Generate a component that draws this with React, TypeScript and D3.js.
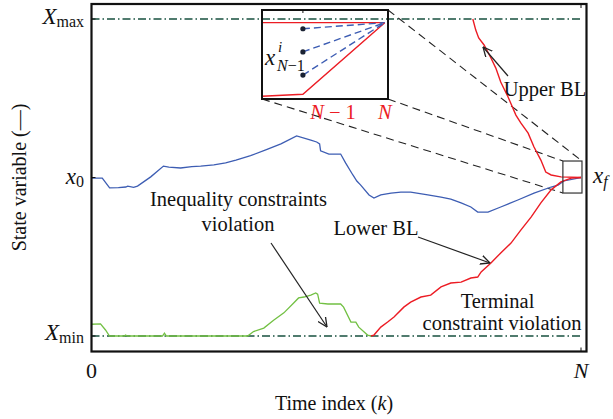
import React from "react";
import * as d3 from "d3";

// ---- data (k: time index, 0..N; v: state, Xmin = 0, x0 = 0.5, Xmax = 1) ----
const N = 100;
const kTicks = [0, N];
const kTickLabels = ["0", "N"];
const X_MIN = 0;
const X_0 = 0.5;
const X_MAX = 1;

const stateTrajectory: [number, number][] = [
  [0, 0.498], [2.2, 0.498], [3.7, 0.467], [5.5, 0.468], [7.0, 0.47], [7.4, 0.473],
  [8.6, 0.469], [9.4, 0.473], [12.1, 0.502], [14.7, 0.536], [15.8, 0.533], [18.2, 0.53],
  [20.5, 0.534], [22.3, 0.536], [25.0, 0.54], [27.4, 0.546], [29.5, 0.555], [32.5, 0.569],
  [35.6, 0.587], [38.7, 0.606], [41.9, 0.631], [44.8, 0.618], [46.0, 0.612], [46.6, 0.606],
  [46.8, 0.584], [48.5, 0.574], [50.9, 0.574], [51.9, 0.546], [53.4, 0.508], [54.2, 0.489],
  [55.0, 0.476], [56.7, 0.445], [57.7, 0.435], [59.1, 0.445], [61.2, 0.451], [63.2, 0.454],
  [65.2, 0.454], [68.7, 0.445], [71.4, 0.438], [73.4, 0.432], [75.5, 0.42], [77.5, 0.407],
  [78.9, 0.391], [81.0, 0.391], [83.6, 0.407], [87.1, 0.429], [90.4, 0.451], [93.9, 0.47],
  [95.3, 0.476], [96.5, 0.489], [99.4, 0.498], [100, 0.5],
];

const violationTrajectory: [number, number][] = [
  [0, 0.037], [1.84, 0.038], [2.86, 0.019], [3.68, 0], [6.75, 0], [6.95, 0.003], [7.36, 0],
  [14.5, 0], [14.9, 0.009], [15.3, 0], [31.9, 0], [33.1, 0.014], [35.2, 0.025], [37.2, 0.05],
  [39.3, 0.073], [41.3, 0.104], [42.3, 0.12], [43.4, 0.123], [44.8, 0.129], [45.8, 0.136],
  [46.2, 0.132], [46.6, 0.104], [48.3, 0.101], [50.9, 0.101], [51.5, 0.091], [53.0, 0.044],
  [54.0, 0.044], [54.6, 0.028], [56.4, 0.003], [57.1, 0],
];

const lowerBL: [number, number][] = [
  [57.1, 0], [57.7, 0.003], [59.1, 0.028], [60.5, 0.044], [61.8, 0.06], [63.8, 0.091],
  [65.2, 0.107], [67.3, 0.123], [69.3, 0.129], [71.4, 0.155], [73.4, 0.167], [75.5, 0.17],
  [77.5, 0.183], [78.9, 0.186], [79.6, 0.202], [81.6, 0.23], [83.6, 0.262], [85.7, 0.293],
  [87.7, 0.334], [89.8, 0.375], [91.8, 0.42], [93.9, 0.461], [95.9, 0.486], [98.0, 0.498],
  [100, 0.5],
];

const upperBL: [number, number][] = [
  [77.9, 1.0], [78.5, 0.965], [79.1, 0.94], [80.2, 0.918], [81.6, 0.877], [82.6, 0.845],
  [83.6, 0.801], [85.1, 0.754], [86.7, 0.697], [87.7, 0.672], [89.2, 0.64], [90.4, 0.596],
  [91.8, 0.555], [92.8, 0.517], [93.9, 0.508], [95.9, 0.502], [100, 0.5],
];

// zoom window around x_f (k range, v range)
const zoomK = [96.3, 100.2];
const zoomV = [0.451, 0.552];

// inset (local units: step offset from N; 0 = lower BL at N-1, 1 = upper BL)
const insetUpper: [number, number][] = [[-1.5, 1], [0, 1]];
const insetLower: [number, number][] = [[-1.5, -0.028], [-1, 0], [0, 1]];
const insetCandidates = [0.915, 0.592, 0.268];

// ---- colours ----
const BLUE = "#3d5db3";
const GREEN = "#72c043";
const RED = "#ec1c24";
const DASHDOT = "#17503f";
const FONT = "'Liberation Serif', 'Times New Roman', serif";

export default function App() {
  const W = 613;
  const H = 419;
  const left = 91.5, right = 586.5, top = 4, bottom = 351.5;

  const x = d3.scaleLinear().domain([0, N]).range([91.5, 581]);
  const y = d3.scaleLinear().domain([X_MIN, X_MAX]).range([336, 19]);
  const line = d3.line<[number, number]>().x((d) => x(d[0])).y((d) => y(d[1]));

  // inset scales
  const ix = d3.scaleLinear().domain([-1.5, 0.04]).range([262, 388]);
  const iy = d3.scaleLinear().domain([-0.066, 1.177]).range([99, 10]);
  const iline = d3.line<[number, number]>().x((d) => ix(d[0])).y((d) => iy(d[1]));
  const ib = { x0: ix(-1.5), x1: ix(0.04), y0: iy(1.177), y1: iy(-0.066) };

  const zb = { x0: x(zoomK[0]), x1: x(zoomK[1]), y0: y(zoomV[1]), y1: y(zoomV[0]) };

  const conv = [X_MAX, X_0, X_MIN];

  return (
    <svg
      width={W}
      height={H}
      style={{ position: "absolute", left: 0, top: 0, background: "#fff" }}
      fontFamily={FONT}
    >
      <defs>
        <marker
          id="arr"
          viewBox="0 0 10 10"
          refX="9.5"
          refY="5"
          markerWidth="10"
          markerHeight="10"
          markerUnits="userSpaceOnUse"
          orient="auto"
        >
          <path d="M0,0.5 L9.5,5 L0,9.5" fill="none" stroke="#222" strokeWidth="1.3" />
        </marker>
      </defs>
      <rect x={0} y={0} width={W} height={H} fill="#fff" />

      {/* bounds */}
      {[X_MAX, X_MIN].map((v) => (
        <line
          key={v}
          x1={x(0)}
          x2={x(N)}
          y1={y(v)}
          y2={y(v)}
          stroke={DASHDOT}
          strokeWidth={1.3}
          strokeDasharray="8,3,1.5,3"
        />
      ))}

      {/* connector lines to inset */}
      <g stroke="#222" strokeWidth={1.1} strokeDasharray="8,5" fill="none">
        <line x1={ib.x1} y1={ib.y0} x2={zb.x1} y2={zb.y0} />
        <line x1={ib.x1} y1={ib.y1} x2={zb.x0} y2={zb.y0} />
        <line x1={ib.x0} y1={ib.y1} x2={zb.x0} y2={zb.y1} />
      </g>

      {/* curves */}
      <path d={line(violationTrajectory) ?? ""} fill="none" stroke={GREEN} strokeWidth={1.3} />
      <path d={line(stateTrajectory) ?? ""} fill="none" stroke={BLUE} strokeWidth={1.3} />
      <path d={line(lowerBL) ?? ""} fill="none" stroke={RED} strokeWidth={1.4} />
      <path d={line(upperBL) ?? ""} fill="none" stroke={RED} strokeWidth={1.4} />

      {/* zoom box */}
      <rect
        x={zb.x0}
        y={zb.y0}
        width={zb.x1 - zb.x0}
        height={zb.y1 - zb.y0}
        fill="none"
        stroke="#333"
        strokeWidth={1.2}
      />

      {/* inset */}
      <g>
        <path d={iline(insetUpper) ?? ""} fill="none" stroke={RED} strokeWidth={1.4} />
        <path d={iline(insetLower) ?? ""} fill="none" stroke={RED} strokeWidth={1.4} />
        {insetCandidates.map((v) => (
          <g key={v}>
            <line
              x1={ix(-1)}
              y1={iy(v)}
              x2={ix(0)}
              y2={iy(1)}
              stroke={BLUE}
              strokeWidth={1.4}
              strokeDasharray="7,4"
            />
            <circle cx={ix(-1)} cy={iy(v)} r={2.6} fill="#1a2233" />
          </g>
        ))}
        <rect
          x={ib.x0}
          y={ib.y0}
          width={ib.x1 - ib.x0}
          height={ib.y1 - ib.y0}
          fill="none"
          stroke="#111"
          strokeWidth={2}
        />
        <line x1={ix(-1)} x2={ix(-1)} y1={ib.y0} y2={ib.y0 + 3} stroke="#111" strokeWidth={1} />
        <text x={265} y={65} fontSize={23} fontStyle="italic" fill="#111">x</text>
        <text x={278} y={52} fontSize={15} fontStyle="italic" fill="#111">i</text>
        <text x={277} y={71} fontSize={16} fill="#111">
          <tspan fontStyle="italic">N</tspan>
          <tspan>{"\u22121"}</tspan>
        </text>
        <text x={333} y={119} fontSize={20.5} fill={RED} textAnchor="middle">
          <tspan fontStyle="italic">N</tspan>
          <tspan>{" \u2212 1"}</tspan>
        </text>
        <text x={ix(0)} y={119} fontSize={20.5} fill={RED} textAnchor="middle" fontStyle="italic">
          N
        </text>
      </g>

      {/* frame */}
      <rect
        x={left}
        y={top}
        width={right - left}
        height={bottom - top}
        fill="none"
        stroke="#111"
        strokeWidth={2.2}
      />
      {/* ticks */}
      {conv.map((v) => (
        <line key={v} x1={left} x2={left + 4} y1={y(v)} y2={y(v)} stroke="#111" strokeWidth={1} />
      ))}
      <line x1={x(N)} x2={x(N)} y1={bottom} y2={bottom - 4} stroke="#111" strokeWidth={1} />
      <line x1={x(N)} x2={x(N)} y1={top} y2={top + 4} stroke="#111" strokeWidth={1} />

      {/* y tick labels */}
      <text x={84} y={y(X_MAX) + 5} fontSize={23} textAnchor="end" fill="#111">
        <tspan fontStyle="italic">X</tspan>
        <tspan fontSize={16} dy={3}>max</tspan>
      </text>
      <text x={84} y={y(X_0) + 6} fontSize={23} textAnchor="end" fill="#111">
        <tspan fontStyle="italic">x</tspan>
        <tspan fontSize={16} dy={3}>0</tspan>
      </text>
      <text x={84} y={y(X_MIN) + 4} fontSize={23} textAnchor="end" fill="#111">
        <tspan fontStyle="italic">X</tspan>
        <tspan fontSize={16} dy={3}>min</tspan>
      </text>
      <text x={593} y={183} fontSize={23} fill="#111">
        <tspan fontStyle="italic">x</tspan>
        <tspan fontSize={16} dy={4} fontStyle="italic">f</tspan>
      </text>

      {/* x tick labels */}
      {kTicks.map((k, i) => (
        <text
          key={k}
          x={x(k)}
          y={378}
          fontSize={22}
          textAnchor="middle"
          fontStyle={i === 1 ? "italic" : "normal"}
          fill="#111"
        >
          {kTickLabels[i]}
        </text>
      ))}

      {/* axis titles */}
      <text x={334} y={410} fontSize={20} textAnchor="middle" fill="#111">
        <tspan>Time index (</tspan>
        <tspan fontStyle="italic">k</tspan>
        <tspan>)</tspan>
      </text>
      <text
        transform="translate(26,177.5) rotate(-90)"
        fontSize={20}
        textAnchor="middle"
        fill="#111"
      >
        State variable (—)
      </text>

      {/* annotations */}
      <g fontSize={20.5} fill="#111" textAnchor="middle">
        <text x={545} y={96}>Upper BL</text>
        <text x={376} y={235}>Lower BL</text>
        <text x={238.5} y={206}>Inequality constraints</text>
        <text x={238} y={231}>violation</text>
        <text x={497.5} y={308}>Terminal</text>
        <text x={502} y={330}>constraint violation</text>
      </g>
      <g stroke="#222" strokeWidth={1.2} fill="none">
        <line x1={508} y1={76} x2={483} y2={47} markerEnd="url(#arr)" />
        <line x1={418} y1={237} x2={490} y2={263} markerEnd="url(#arr)" />
        <line x1={271} y1={243} x2={327} y2={327} markerEnd="url(#arr)" />
      </g>
    </svg>
  );
}
